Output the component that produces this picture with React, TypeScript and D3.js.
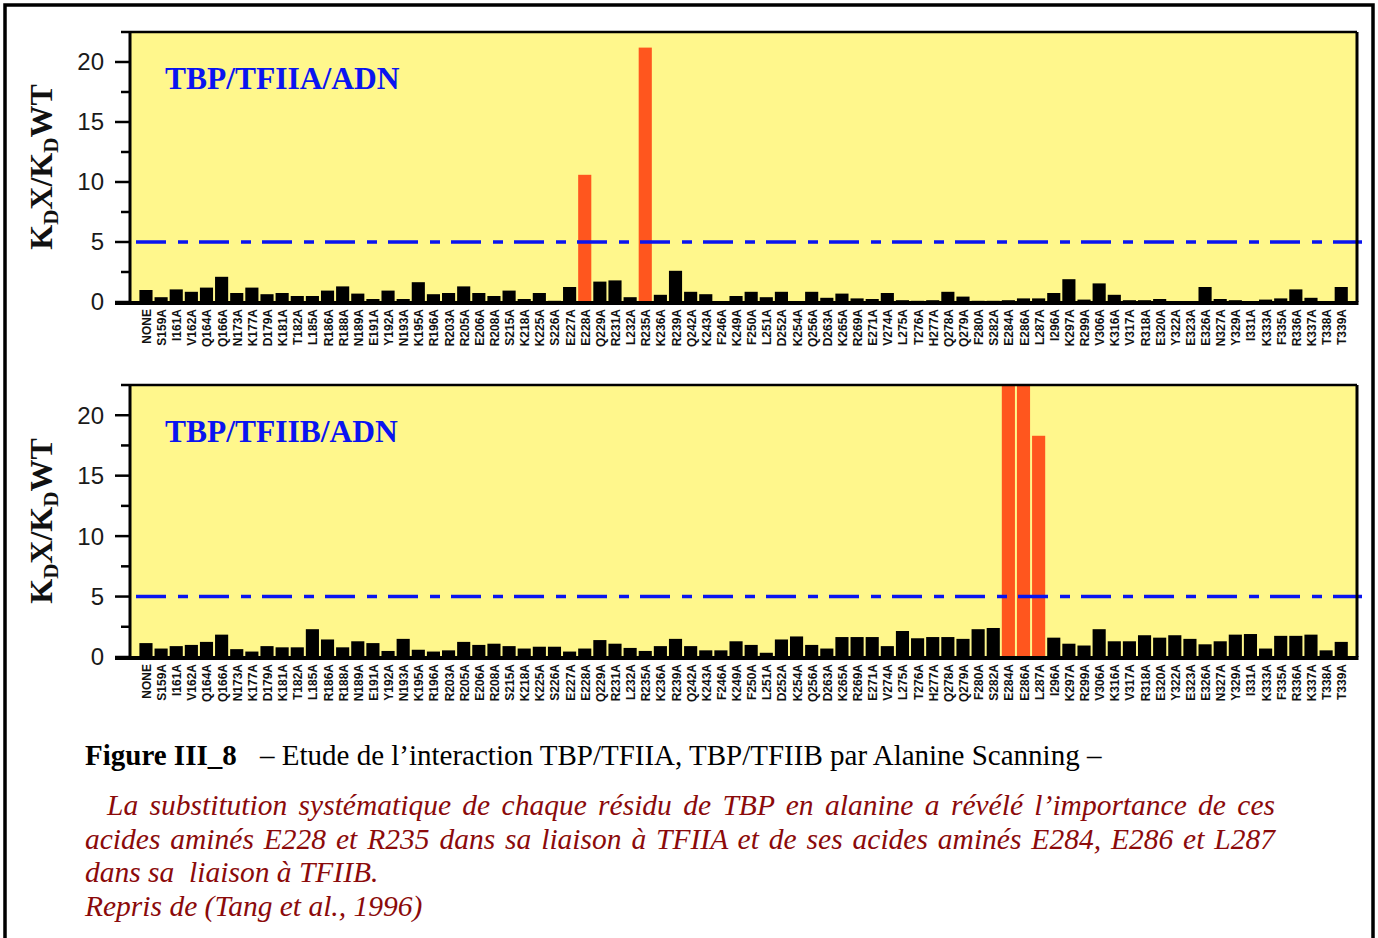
import React, { useEffect, useRef } from "react";
import * as d3 from "d3";

// residues mutated to alanine (x axis)
const categories = [
  "NONE", "S159A", "I161A", "V162A", "Q164A", "Q166A", "N173A", "K177A", "D179A", "K181A",
  "T182A", "L185A", "R186A", "R188A", "N189A", "E191A", "Y192A", "N193A", "K195A", "R196A",
  "R203A", "R205A", "E206A", "R208A", "S215A", "K218A", "K225A", "S226A", "E227A", "E228A",
  "Q229A", "R231A", "L232A", "R235A", "K236A", "R239A", "Q242A", "K243A", "F246A", "K249A",
  "F250A", "L251A", "D252A", "K254A", "Q256A", "D263A", "K265A", "R269A", "E271A", "V274A",
  "L275A", "T276A", "H277A", "Q278A", "Q279A", "F280A", "S282A", "E284A", "E286A", "L287A",
  "I296A", "K297A", "R299A", "V306A", "K316A", "V317A", "R318A", "E320A", "Y322A", "E323A",
  "E326A", "N327A", "Y329A", "I331A", "K333A", "F335A", "R336A", "K337A", "T338A", "T339A",
];

// KdX / KdWT, TBP/TFIIA/DNA
const tfiiaValues = [
  1.0, 0.4, 1.05, 0.85, 1.2, 2.1, 0.75, 1.2, 0.65, 0.75,
  0.5, 0.5, 0.95, 1.3, 0.7, 0.25, 0.95, 0.25, 1.65, 0.65,
  0.75, 1.3, 0.75, 0.5, 0.95, 0.25, 0.75, 0.1, 1.25, 10.6,
  1.7, 1.8, 0.4, 21.2, 0.6, 2.6, 0.85, 0.65, 0.05, 0.5,
  0.85, 0.4, 0.85, 0.05, 0.85, 0.35, 0.7, 0.3, 0.25, 0.75,
  0.15, 0.1, 0.15, 0.85, 0.45, 0.1, 0.1, 0.15, 0.3, 0.3,
  0.75, 1.9, 0.2, 1.55, 0.6, 0.15, 0.15, 0.25, 0.05, 0.05,
  1.25, 0.25, 0.15, 0.05, 0.2, 0.3, 1.05, 0.35, 0.05, 1.25,
];

// KdX / KdWT, TBP/TFIIB/DNA (E284A, E286A go off scale)
const tfiibValues = [
  1.15, 0.7, 0.9, 1.0, 1.25, 1.85, 0.65, 0.45, 0.9, 0.8,
  0.8, 2.3, 1.45, 0.8, 1.3, 1.15, 0.5, 1.5, 0.6, 0.45,
  0.55, 1.25, 1.0, 1.1, 0.9, 0.7, 0.85, 0.85, 0.45, 0.7,
  1.4, 1.1, 0.75, 0.5, 0.9, 1.5, 0.9, 0.55, 0.55, 1.3,
  1.0, 0.35, 1.45, 1.7, 1.0, 0.7, 1.65, 1.65, 1.65, 0.9,
  2.15, 1.55, 1.65, 1.65, 1.5, 2.3, 2.4, 24, 24, 18.3,
  1.6, 1.1, 0.95, 2.3, 1.3, 1.3, 1.8, 1.6, 1.8, 1.5,
  1.05, 1.3, 1.85, 1.9, 0.7, 1.75, 1.75, 1.85, 0.55, 1.25,
];

const tfiiaHighlight = ["E228A", "R235A"];
const tfiibHighlight = ["E284A", "E286A", "L287A"];

const yMajorTicks = [0, 5, 10, 15, 20];
const yMinorTicks = [2.5, 7.5, 12.5, 17.5, 22.5];
const threshold = 5;

const YELLOW = "#fff78c";
const ORANGE = "#ff561e";
const BLUE = "#0a14f0";
const DARKRED = "#8b0a0a";

const plotLeft = 130;
const plotRight = 1357;
const sans = "'Liberation Sans', Arial, sans-serif";
const serif = "'Liberation Serif', 'Times New Roman', serif";

const Panel = ({ top, bottom, values, highlight, label }) => {
  const x = d3
    .scaleBand()
    .domain(categories)
    .range([138.4, 1348.8]); // bars sit inside the frame

  const y = d3
    .scaleLinear()
    .domain([0, 22.5])
    .range([bottom, top])
    .clamp(true); // off-scale bars stop at the top of the frame

  const bw = x.bandwidth();
  const midY = (top + bottom) / 2;

  return (
    <g>
      {/* background */}
      <rect x={plotLeft} y={top} width={plotRight - plotLeft} height={bottom - top} fill={YELLOW} />

      {/* bars */}
      {categories.map((c, i) => {
        const hot = highlight.includes(c);
        return (
          <rect
            key={c}
            x={x(c) + 1}
            y={y(values[i])}
            width={bw - 2}
            height={bottom - y(values[i])}
            fill={hot ? ORANGE : "#000"}
          />
        );
      })}

      {/* threshold line */}
      <line
        x1={136}
        x2={1362}
        y1={y(threshold)}
        y2={y(threshold)}
        stroke={BLUE}
        strokeWidth={3.5}
        strokeDasharray="30 12 10 11"
      />

      {/* frame */}
      <line x1={plotLeft} x2={plotLeft} y1={top} y2={bottom} stroke="#000" strokeWidth={3} />
      <line x1={plotRight} x2={plotRight} y1={top} y2={bottom} stroke="#000" strokeWidth={3} />
      <line x1={plotLeft} x2={plotRight} y1={top} y2={top} stroke="#000" strokeWidth={2.5} />
      <line x1={115} x2={plotRight + 1.5} y1={bottom + 1} y2={bottom + 1} stroke="#000" strokeWidth={4} />

      {/* y ticks */}
      {yMajorTicks.map((t) => (
        <g key={t} transform={`translate(0, ${y(t)})`}>
          <line x1={115} x2={plotLeft} stroke="#000" strokeWidth={2.5} />
          <text x={104} dy="0.35em" textAnchor="end" fontSize={24} fontFamily={sans} fill="#1a1a1a">
            {t}
          </text>
        </g>
      ))}
      {yMinorTicks.map((t) => (
        <line key={t} x1={121} x2={plotLeft} y1={y(t)} y2={y(t)} stroke="#000" strokeWidth={2.5} />
      ))}

      {/* x labels */}
      {categories.map((c) => (
        <text
          key={c}
          transform={`translate(${x(c) + bw / 2 + 1}, ${bottom + 7}) rotate(-90)`}
          textAnchor="end"
          dominantBaseline="central"
          fontSize={12}
          fontWeight="bold"
          fontFamily={sans}
          fill="#111"
        >
          {c}
        </text>
      ))}

      {/* y title */}
      <text
        transform={`translate(52, ${midY}) rotate(-90)`}
        textAnchor="middle"
        fontSize={32}
        fontWeight="bold"
        fontFamily={serif}
        fill="#111"
      >
        K<tspan fontSize={21} dy={6}>D</tspan>
        <tspan dy={-6}>X/K</tspan>
        <tspan fontSize={21} dy={6}>D</tspan>
        <tspan dy={-6}>WT</tspan>
      </text>

      {/* panel label */}
      <text x={165} y={top + 57} fontSize={31.5} fontWeight="bold" fontFamily={serif} fill={BLUE}>
        {label}
      </text>
    </g>
  );
};

// justified caption line: stretch the spaces to reach a given right edge
const JustifiedLine = ({ x, y, right, children }) => {
  const ref = useRef(null);
  useEffect(() => {
    const el = ref.current;
    if (!el) return;
    el.style.wordSpacing = "0px";
    const len = el.getComputedTextLength();
    const spaces = (el.textContent.match(/ /g) || []).length;
    if (spaces > 0) el.style.wordSpacing = `${(right - x - len) / spaces}px`;
  }, [x, right, children]);
  return (
    <text ref={ref} x={x} y={y}>
      {children}
    </text>
  );
};

const App = () => {
  return (
    <svg
      width={1378}
      height={938}
      style={{ position: "absolute", left: 0, top: 0, background: "#fff" }}
    >
      <rect x={5} y={5} width={1368} height={960} fill="none" stroke="#000" strokeWidth={3.5} />

      <Panel top={32} bottom={302} values={tfiiaValues} highlight={tfiiaHighlight} label="TBP/TFIIA/ADN" />
      <Panel top={385} bottom={657} values={tfiibValues} highlight={tfiibHighlight} label="TBP/TFIIB/ADN" />

      {/* caption */}
      <text x={85} y={765} fontFamily={serif} fontSize={29} fill="#000">
        <tspan fontWeight="bold">Figure III_8</tspan>
        <tspan x={260}>– Etude de l’interaction TBP/TFIIA, TBP/TFIIB par Alanine Scanning –</tspan>
      </text>

      <g fontFamily={serif} fontSize={29.5} fontStyle="italic" fill={DARKRED}>
        <JustifiedLine x={107} y={815} right={1275}>
          La substitution systématique de chaque résidu de TBP en alanine a révélé l’importance de ces
        </JustifiedLine>
        <JustifiedLine x={85} y={849} right={1275}>
          acides aminés E228 et R235 dans sa liaison à TFIIA et de ses acides aminés E284, E286 et L287
        </JustifiedLine>
        <text x={85} y={882} style={{ whiteSpace: "pre" }}>dans sa  liaison à TFIIB.</text>
        <text x={85} y={916}>Repris de (Tang et al., 1996)</text>
      </g>
    </svg>
  );
};

export default App;
